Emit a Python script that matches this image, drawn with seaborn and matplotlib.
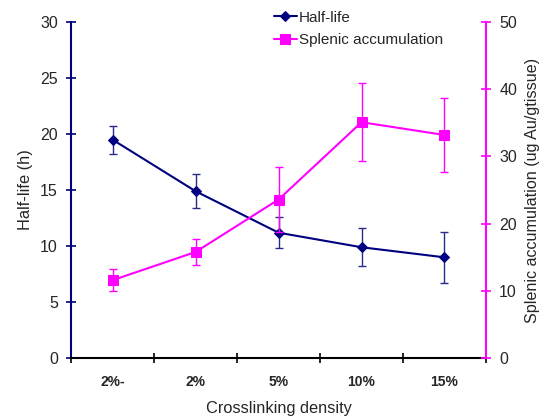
import matplotlib
matplotlib.use("Agg")
import matplotlib.pyplot as plt
import seaborn as sns
import numpy as np
import pandas as pd

categories = ["2%-", "2%", "5%", "10%", "15%"]
half_life = [19.5, 14.9, 11.2, 9.9, 9.0]
half_life_err = [1.25, 1.5, 1.4, 1.7, 2.3]
splenic = [11.6, 15.8, 23.6, 35.1, 33.2]
splenic_err = [1.65, 1.95, 4.9, 5.8, 5.5]

sns.set_theme(style="white")
plt.rcParams['font.family'] = ['Liberation Sans', 'DejaVu Sans']

NAVY = "#000080"
MAG = "#FF00FF"

fig = plt.figure(figsize=(5.43, 4.16), dpi=100)
ax = fig.add_axes([0.131, 0.139, 0.764, 0.808])
ax2 = ax.twinx()

x = np.arange(len(categories))
df = pd.DataFrame({"x": x, "half": half_life, "spl": splenic})

ax.errorbar(x, half_life, yerr=half_life_err, fmt='none', ecolor="#2a2a8a", elinewidth=1, capsize=3, capthick=1)
sns.lineplot(data=df, x="x", y="half", ax=ax, color=NAVY, marker="D", markersize=5,
             markeredgecolor=NAVY, linewidth=1.5, label="Half-life", legend=False)

ax2.errorbar(x, splenic, yerr=splenic_err, fmt='none', ecolor=MAG, elinewidth=1, capsize=3, capthick=1)
sns.lineplot(data=df, x="x", y="spl", ax=ax2, color=MAG, marker="s", markersize=7,
             markeredgecolor=MAG, linewidth=1.5, label="Splenic accumulation", legend=False)

ax.set_xlim(-0.5, len(categories) - 0.5)
ax.set_ylim(0, 30)
ax2.set_ylim(0, 50)
ax.set_yticks(np.arange(0, 31, 5))
ax2.set_yticks(np.arange(0, 51, 10))

ax.set_xticks(x)
ax.set_xticklabels(categories, fontsize=10, fontweight="bold")
ax.set_xticks(np.arange(-0.5, len(categories), 1), minor=True)
ax.tick_params(axis="x", which="major", length=0, pad=12)
ax.tick_params(axis="x", which="minor", length=7, direction="inout", width=1.2, color="black", bottom=True)

ax.tick_params(axis="y", length=7, direction="inout", width=1.2, color=NAVY, labelsize=11.5, left=True, pad=6)
ax2.tick_params(axis="y", length=7, direction="inout", width=1.2, color=MAG, labelsize=11.5, right=True, pad=6)

for a in (ax, ax2):
    a.spines["top"].set_visible(False)
ax.spines["right"].set_visible(False)
ax2.spines["left"].set_visible(False)
ax2.spines["bottom"].set_visible(False)
ax.spines["left"].set_color(NAVY)
ax.spines["left"].set_linewidth(1.5)
ax2.spines["right"].set_color(MAG)
ax2.spines["right"].set_linewidth(1.5)
ax.spines["bottom"].set_color("black")
ax.spines["bottom"].set_linewidth(1.5)
ax.grid(False)
ax2.grid(False)

ax.set_xlabel("Crosslinking density", fontsize=11.8, labelpad=9)
ax.set_ylabel("Half-life (h)", fontsize=11.8, labelpad=5)
ax2.set_ylabel("Splenic accumulation (ug Au/gtissue)", fontsize=11.6, labelpad=6)

h1, l1 = ax.get_legend_handles_labels()
h2, l2 = ax2.get_legend_handles_labels()
ax2.legend(h1 + h2, l1 + l2, loc="upper left", bbox_to_anchor=(0.455, 1.075), frameon=False,
           fontsize=11, handlelength=1.5, handletextpad=0.15, labelspacing=0.55)

fig.savefig("out.png", dpi=100)
